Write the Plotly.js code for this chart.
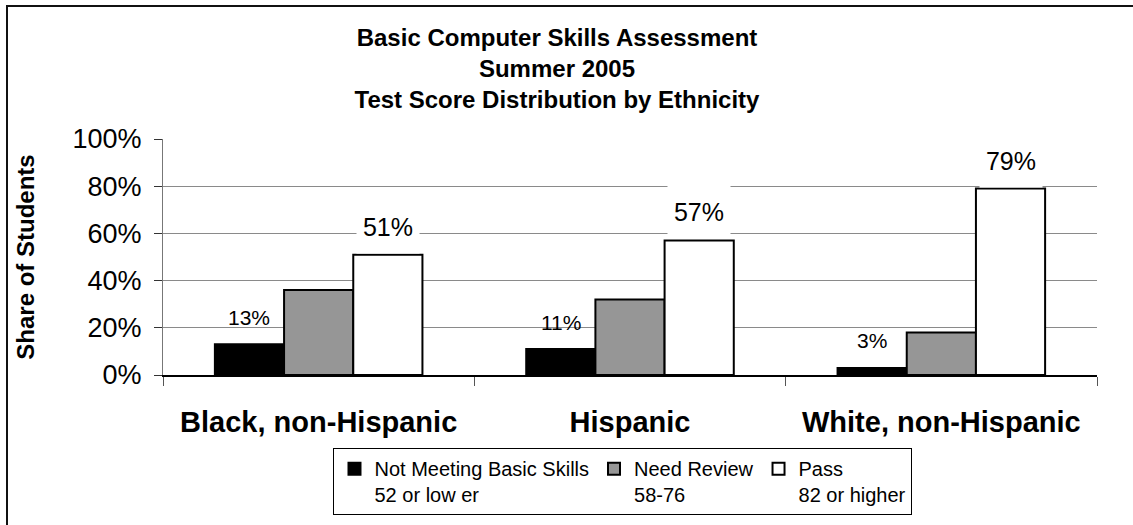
<!DOCTYPE html>
<html>
<head>
<meta charset="utf-8">
<script src="https://cdn.plot.ly/plotly-3.0.1.min.js"></script>
<style>
  html, body { margin: 0; padding: 0; background: #fff; }
  #wrap { position: relative; width: 1133px; height: 525px; overflow: hidden; }
  #chart { width: 1133px; height: 525px; }
  /* chart-area frame: only the top and left edges fall inside the page */
  #frame { position: absolute; left: 6px; top: 5px; width: 2000px; height: 2000px;
           border-left: 2px solid #111; border-top: 2px solid #111; pointer-events: none; }
</style>
</head>
<body>
<div id="wrap">
  <div id="chart"></div>
  <div id="frame"></div>
</div>
<script>
// Test score distribution by ethnicity, Summer 2005
const categories = ["Black, non-Hispanic", "Hispanic", "White, non-Hispanic"];
const notMeeting = [13, 11, 3];   // 52 or lower
const needReview = [36, 32, 18];  // 58-76
const pass       = [51, 57, 79];  // 82 or higher
const seriesNames = [
  "Not Meeting Basic Skills<br>52 or low er",
  "Need Review<br>58-76",
  "Pass<br>82 or higher"
];
const yTickVals = [0, 20, 40, 60, 80, 100];
const yTickText = ["0%", "20%", "40%", "60%", "80%", "100%"];

const FONT = "Liberation Sans, Arial, Helvetica, sans-serif";
const W = 1133, H = 525;
const margin = { l: 163, r: 36, t: 139, b: 150, autoexpand: false };
const bargap = 1 / 3;

// pixel width of one bar, used to place the value labels over their bars
const plotW = W - margin.l - margin.r;
const barPx = plotW / categories.length * (1 - bargap) / 3;

const fills = ["#000000", "#969696", "#ffffff"];
const values = [notMeeting, needReview, pass];

const traces = values.map((v, i) => ({
  type: "bar",
  name: seriesNames[i],
  x: categories,
  y: v,
  marker: { color: fills[i], line: { color: "#000000", width: 2 } },
  hoverinfo: "skip"
}));

const annotations = [];
categories.forEach((c, k) => {
  // labels for the lowest band (left bar of each group)
  annotations.push({
    x: c, y: notMeeting[k], xref: "x", yref: "y",
    text: notMeeting[k] + "%", showarrow: false,
    xshift: -barPx, yshift: 27,
    font: { family: FONT, size: 21, color: "#000" }
  });
  // labels for the passing band (right bar), on a white box
  annotations.push({
    x: c, y: pass[k], xref: "x", yref: "y",
    text: pass[k] + "%", showarrow: false,
    xshift: barPx, yshift: 28,
    width: 60, height: 50, bgcolor: "#ffffff",
    font: { family: FONT, size: 25, color: "#000" }
  });
});

const layout = {
  width: W, height: H,
  margin: margin,
  paper_bgcolor: "#ffffff",
  plot_bgcolor: "#ffffff",
  barmode: "group",
  bargap: bargap,
  bargroupgap: 0,
  showlegend: true,
  font: { family: FONT, color: "#000" },
  title: {
    text: "Basic Computer Skills Assessment<br>Summer 2005<br>Test Score Distribution by Ethnicity",
    font: { family: FONT, size: 24, color: "#000", weight: "bold" },
    xref: "container", x: 557 / W, xanchor: "center",
    yref: "container", y: 1 - 46 / H, yanchor: "top"
  },
  xaxis: {
    type: "category",
    showgrid: false,
    showline: true, linecolor: "#000", linewidth: 1.5,
    ticks: "outside", tickson: "boundaries", ticklen: 9, tickcolor: "#555", tickwidth: 1,
    ticklabelstandoff: 21,
    tickangle: 0,
    tickfont: { family: FONT, size: 29, color: "#000", weight: "bold" },
    zeroline: false
  },
  yaxis: {
    range: [0, 100],
    tickvals: yTickVals, ticktext: yTickText,
    showgrid: true, gridcolor: "#8a8a8a", gridwidth: 1,
    showline: true, linecolor: "#777", linewidth: 1,
    ticks: "outside", ticklen: 8, tickcolor: "#333", tickwidth: 1,
    ticklabelstandoff: 7,
    tickfont: { family: FONT, size: 27, color: "#000" },
    zeroline: false,
    title: {
      text: "Share of Students",
      font: { family: FONT, size: 24, color: "#000", weight: "bold" },
      standoff: 31
    }
  },
  legend: {
    orientation: "h",
    x: 0.4925, xanchor: "center",
    y: -0.31, yanchor: "top",
    valign: "top",
    bgcolor: "#ffffff",
    bordercolor: "#000", borderwidth: 1,
    font: { family: FONT, size: 20, color: "#000" },
    itemclick: false, itemdoubleclick: false,
    traceorder: "normal"
  },
  annotations: annotations
};

Plotly.newPlot("chart", traces, layout, { displayModeBar: false, staticPlot: true });
</script>
</body>
</html>
